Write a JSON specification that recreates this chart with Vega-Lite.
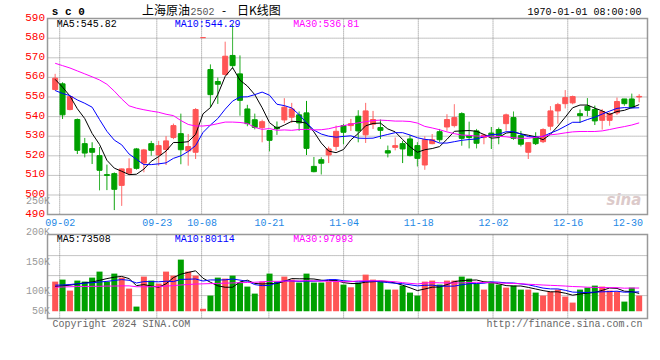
{
"$schema": "https://vega.github.io/schema/vega-lite/v6.json",
"background": "white",
"padding": {"left": 23.5, "top": 3.6, "right": 0, "bottom": 0},
"bounds": "flush",
"spacing": 20,
"config": {
  "view": {"stroke": "#999999", "strokeWidth": 1.5},
  "font": "Liberation Mono",
  "axis": {"grid": false, "domain": false, "ticks": false, "labelFont": "Liberation Mono", "labelOverlap": false, "labelFlush": false, "tickCount": 30},
  "rule": {"color": "#8a8a8a", "strokeDash": [1, 1], "strokeWidth": 1, "opacity": 1}
},
"datasets": {
"k": [
{"i":0,"o":553.8,"h":561.8,"l":553.3,"c":559.6,"v":125900,"m5":559,"m10":553.3,"m30":567.2,"vm5":104000,"vm10":110000,"vm30":101000},
{"i":1,"o":556.7,"h":557.5,"l":538.8,"c":540.9,"v":134800,"m5":555,"m10":551.8,"m30":566.0,"vm5":107000,"vm10":111000,"vm30":102000},
{"i":2,"o":543.6,"h":550.7,"l":543.2,"c":550.2,"v":85900,"m5":550.5,"m10":550.7,"m30":564.8,"vm5":110000,"vm10":113000,"vm30":103000},
{"i":3,"o":538.5,"h":539.0,"l":520.9,"c":522.8,"v":130400,"m5":544,"m10":548.5,"m30":563.3,"vm5":115000,"vm10":116000,"vm30":104000},
{"i":4,"o":526.2,"h":529.1,"l":519.2,"c":521.4,"v":125900,"m5":539.0,"m10":546.8,"m30":561.8,"vm5":120600,"vm10":119000,"vm30":104000},
{"i":5,"o":523.7,"h":526.9,"l":515.8,"c":521.8,"v":143700,"m5":531.4,"m10":544.8,"m30":560.3,"vm5":124100,"vm10":121000,"vm30":105000},
{"i":6,"o":520.1,"h":524.5,"l":502.4,"c":512.6,"v":170400,"m5":525.8,"m10":538.5,"m30":558.7,"vm5":131300,"vm10":124000,"vm30":105000},
{"i":7,"o":510.4,"h":515.5,"l":502.5,"c":510.0,"v":125900,"m5":517.7,"m10":532.5,"m30":556.5,"vm5":139300,"vm10":127000,"vm30":106000},
{"i":8,"o":510.9,"h":511.5,"l":492.3,"c":502.9,"v":161500,"m5":513.7,"m10":528.0,"m30":553.0,"vm5":145500,"vm10":131000,"vm30":106000},
{"i":9,"o":504.9,"h":513.5,"l":494.5,"c":513.3,"v":143700,"m5":512.1,"m10":525.6,"m30":549.0,"vm5":149000,"vm10":134800,"vm30":107000},
{"i":10,"o":511.1,"h":518.7,"l":510.3,"c":513.4,"v":94800,"m5":510.4,"m10":520.9,"m30":545.5,"vm5":139300,"vm10":131700,"vm30":107000},
{"i":11,"o":523.5,"h":524.0,"l":513.0,"c":513.6,"v":14700,"m5":510.6,"m10":518.2,"m30":544.3,"vm5":108100,"vm10":119700,"vm30":103000},
{"i":12,"o":516.3,"h":523.5,"l":511.6,"c":523.0,"v":148200,"m5":513.2,"m10":515.5,"m30":543.5,"vm5":112600,"vm10":125900,"vm30":103000},
{"i":13,"o":526.2,"h":527.6,"l":520.1,"c":522.8,"v":130400,"m5":517.2,"m10":515.5,"m30":542.8,"vm5":106400,"vm10":125900,"vm30":103000},
{"i":14,"o":520.4,"h":527.6,"l":515.0,"c":525.2,"v":117000,"m5":519.6,"m10":515.9,"m30":542.2,"vm5":101000,"vm10":125000,"vm30":104000},
{"i":15,"o":523.2,"h":530.0,"l":515.3,"c":527.6,"v":170400,"m5":522.4,"m10":516.4,"m30":541.2,"vm5":116100,"vm10":127700,"vm30":106000},
{"i":16,"o":529.3,"h":536.4,"l":528.5,"c":535.4,"v":152600,"m5":526.8,"m10":518.7,"m30":540.5,"vm5":143700,"vm10":125900,"vm30":108000},
{"i":17,"o":531.3,"h":541.5,"l":515.7,"c":523.1,"v":223800,"m5":526.8,"m10":520.0,"m30":538.0,"vm5":158800,"vm10":135700,"vm30":111000},
{"i":18,"o":522.5,"h":531.1,"l":515.0,"c":524.7,"v":170400,"m5":527.2,"m10":522.2,"m30":536.0,"vm5":166800,"vm10":136600,"vm30":113000},
{"i":19,"o":521.8,"h":544.3,"l":518.4,"c":543.6,"v":152600,"m5":530.9,"m10":525.2,"m30":535.2,"vm5":174000,"vm10":137500,"vm30":115000},
{"i":20,"o":580.3,"h":580.3,"l":580.3,"c":580.3,"v":5000,"m5":541.4,"m10":531.9,"m30":535.2,"vm5":140900,"vm10":128500,"vm30":116000},
{"i":21,"o":564.0,"h":566.6,"l":544.8,"c":551.2,"v":63600,"m5":544.6,"m10":535.7,"m30":535.6,"vm5":123100,"vm10":133400,"vm30":117000},
{"i":22,"o":557.9,"h":559.9,"l":546.5,"c":556.5,"v":143700,"m5":551.3,"m10":539.0,"m30":536.4,"vm5":107100,"vm10":133000,"vm30":118000},
{"i":23,"o":561.5,"h":578.2,"l":561.0,"c":570.8,"v":139300,"m5":560.5,"m10":543.8,"m30":537.2,"vm5":100800,"vm10":133800,"vm30":119000},
{"i":24,"o":571.2,"h":587.0,"l":564.5,"c":566.0,"v":152600,"m5":565.0,"m10":547.9,"m30":537.2,"vm5":100800,"vm10":137400,"vm30":120000},
{"i":25,"o":561.8,"h":571.2,"l":540.5,"c":548.3,"v":121500,"m5":558.6,"m10":550.0,"m30":537.0,"vm5":124100,"vm10":132500,"vm30":121000},
{"i":26,"o":543.9,"h":546.0,"l":535.1,"c":536.4,"v":103700,"m5":555.6,"m10":550.1,"m30":536.5,"vm5":132200,"vm10":127600,"vm30":122000},
{"i":27,"o":538.4,"h":541.5,"l":533.5,"c":534.5,"v":72500,"m5":551.2,"m10":551.2,"m30":534.5,"vm5":117900,"vm10":112500,"vm30":123000},
{"i":28,"o":534.4,"h":538.4,"l":526.9,"c":537.4,"v":125900,"m5":544.5,"m10":552.5,"m30":533.5,"vm5":115200,"vm10":108000,"vm30":125000},
{"i":29,"o":532.9,"h":533.0,"l":522.3,"c":527.9,"v":161500,"m5":536.9,"m10":550.9,"m30":533.9,"vm5":117000,"vm10":108900,"vm30":127100},
{"i":30,"o":534.6,"h":537.5,"l":530.7,"c":533.8,"v":125900,"m5":534.0,"m10":546.3,"m30":533.0,"vm5":117900,"vm10":121000,"vm30":127100},
{"i":31,"o":538.3,"h":549.4,"l":536.8,"c":544.8,"v":148200,"m5":535.7,"m10":545.6,"m30":533.2,"vm5":126800,"vm10":129500,"vm30":127500},
{"i":32,"o":539.7,"h":547.0,"l":536.8,"c":543.9,"v":134800,"m5":537.6,"m10":544.4,"m30":533.0,"vm5":139300,"vm10":128600,"vm30":129200},
{"i":33,"o":540.9,"h":542.6,"l":532.8,"c":536.8,"v":121500,"m5":537.4,"m10":541.0,"m30":533.4,"vm5":138400,"vm10":126800,"vm30":128900},
{"i":34,"o":541.9,"h":548.0,"l":520.4,"c":523.8,"v":161500,"m5":536.6,"m10":536.8,"m30":533.5,"vm5":138400,"vm10":127700,"vm30":130000},
{"i":35,"o":514.6,"h":519.4,"l":511.6,"c":511.9,"v":121500,"m5":532.2,"m10":533.1,"m30":533.2,"vm5":137500,"vm10":127700,"vm30":129300},
{"i":36,"o":518.0,"h":519.2,"l":510.5,"c":516.2,"v":121500,"m5":526.5,"m10":531.1,"m30":533.3,"vm5":132200,"vm10":129500,"vm30":127700},
{"i":37,"o":520.4,"h":524.7,"l":516.3,"c":523.5,"v":125900,"m5":522.4,"m10":530.0,"m30":533.8,"vm5":130400,"vm10":134800,"vm30":127700},
{"i":38,"o":524.8,"h":535.4,"l":522.6,"c":532.5,"v":125900,"m5":521.6,"m10":529.5,"m30":534.7,"vm5":131300,"vm10":134800,"vm30":126500},
{"i":39,"o":535.4,"h":536.1,"l":525.9,"c":532.0,"v":112600,"m5":523.2,"m10":529.9,"m30":535.4,"vm5":121500,"vm10":129900,"vm30":125500},
{"i":40,"o":535.4,"h":538.8,"l":532.7,"c":536.4,"v":100600,"m5":528.1,"m10":530.2,"m30":536.1,"vm5":117300,"vm10":127400,"vm30":125600},
{"i":41,"o":540.2,"h":543.2,"l":526.9,"c":532.7,"v":121500,"m5":531.4,"m10":529.0,"m30":536.8,"vm5":117300,"vm10":124700,"vm30":129200},
{"i":42,"o":530.7,"h":547.0,"l":526.6,"c":542.9,"v":157000,"m5":535.3,"m10":528.9,"m30":537.4,"vm5":123500,"vm10":127000,"vm30":129500},
{"i":43,"o":536.1,"h":542.9,"l":533.7,"c":538.5,"v":134800,"m5":536.5,"m10":529.0,"m30":538.0,"vm5":125300,"vm10":128300,"vm30":129600},
{"i":44,"o":534.4,"h":538.5,"l":528.6,"c":533.0,"v":125900,"m5":536.7,"m10":530.0,"m30":538.2,"vm5":128000,"vm10":124700,"vm30":129900},
{"i":45,"o":522.6,"h":525.2,"l":519.2,"c":521.4,"v":90300,"m5":533.7,"m10":530.9,"m30":538.0,"vm5":125900,"vm10":121600,"vm30":127300},
{"i":46,"o":524.3,"h":529.3,"l":522.8,"c":525.2,"v":90300,"m5":532.2,"m10":531.8,"m30":537.7,"vm5":119700,"vm10":118500,"vm30":125200},
{"i":47,"o":526.2,"h":527.6,"l":516.3,"c":523.5,"v":108100,"m5":528.3,"m10":531.8,"m30":537.7,"vm5":109900,"vm10":116700,"vm30":121300},
{"i":48,"o":528.6,"h":530.6,"l":519.7,"c":520.1,"v":77000,"m5":524.6,"m10":530.6,"m30":537.5,"vm5":98300,"vm10":111800,"vm30":118200},
{"i":49,"o":525.2,"h":526.9,"l":514.6,"c":518.7,"v":63600,"m5":521.8,"m10":529.2,"m30":536.7,"vm5":85900,"vm10":106900,"vm30":115300},
{"i":50,"o":515.3,"h":529.9,"l":512.9,"c":528.2,"v":125900,"m5":523.1,"m10":528.4,"m30":535.0,"vm5":93000,"vm10":109400,"vm30":119300},
{"i":51,"o":526.2,"h":531.1,"l":525.9,"c":528.2,"v":130400,"m5":523.7,"m10":528.0,"m30":534.2,"vm5":101000,"vm10":110300,"vm30":121500},
{"i":52,"o":532.3,"h":533.7,"l":526.9,"c":528.2,"v":112600,"m5":524.7,"m10":526.5,"m30":533.3,"vm5":101900,"vm10":105900,"vm30":120500},
{"i":53,"o":534.7,"h":541.2,"l":532.8,"c":538.5,"v":130400,"m5":528.4,"m10":526.5,"m30":532.2,"vm5":112600,"vm10":105500,"vm30":120200},
{"i":54,"o":535.4,"h":546.3,"l":534.5,"c":539.5,"v":130400,"m5":532.5,"m10":527.2,"m30":531.3,"vm5":125900,"vm10":105900,"vm30":119400},
{"i":55,"o":541.5,"h":542.2,"l":525.2,"c":528.9,"v":148200,"m5":532.7,"m10":527.9,"m30":530.6,"vm5":130400,"vm10":111700,"vm30":120300},
{"i":56,"o":530.3,"h":537.4,"l":523.8,"c":529.3,"v":139300,"m5":532.9,"m10":528.3,"m30":530.4,"vm5":132200,"vm10":116600,"vm30":121500},
{"i":57,"o":532.7,"h":533.7,"l":523.8,"c":526.4,"v":117000,"m5":532.5,"m10":528.6,"m30":530.1,"vm5":133100,"vm10":117500,"vm30":123000},
{"i":58,"o":529.3,"h":531.0,"l":525.9,"c":530.6,"v":90300,"m5":530.9,"m10":529.7,"m30":529.9,"vm5":125000,"vm10":118800,"vm30":121800},
{"i":59,"o":531.6,"h":534.7,"l":523.5,"c":529.9,"v":121500,"m5":529.0,"m10":530.8,"m30":530.0,"vm5":123300,"vm10":124600,"vm30":120500},
{"i":60,"o":533.4,"h":534.4,"l":525.9,"c":530.3,"v":112600,"m5":529.3,"m10":531.0,"m30":529.9,"vm5":116100,"vm10":123300,"vm30":120000},
{"i":61,"o":536.4,"h":541.5,"l":532.8,"c":540.9,"v":99200,"m5":531.6,"m10":532.3,"m30":529.7,"vm5":108100,"vm10":120200,"vm30":118400},
{"i":62,"o":539.5,"h":542.6,"l":528.2,"c":528.9,"v":108100,"m5":532.1,"m10":532.3,"m30":529.2,"vm5":106300,"vm10":119700,"vm30":117500},
{"i":63,"o":530.3,"h":532.7,"l":524.8,"c":525.9,"v":90300,"m5":531.2,"m10":531.1,"m30":528.9,"vm5":106300,"vm10":115700,"vm30":116500},
{"i":64,"o":521.8,"h":526.9,"l":518.4,"c":526.7,"v":90300,"m5":530.5,"m10":529.8,"m30":529.0,"vm5":100100,"vm10":111700,"vm30":114100},
{"i":65,"o":529.6,"h":532.0,"l":525.5,"c":526.2,"v":77000,"m5":529.7,"m10":529.5,"m30":529.4,"vm5":93000,"vm10":104600,"vm30":112600},
{"i":66,"o":527.2,"h":534.0,"l":526.5,"c":533.4,"v":63600,"m5":528.2,"m10":529.9,"m30":530.0,"vm5":85900,"vm10":97000,"vm30":110700},
{"i":67,"o":535.1,"h":545.3,"l":533.0,"c":542.9,"v":81400,"m5":531.0,"m10":531.6,"m30":530.7,"vm5":80500,"vm10":93400,"vm30":109200},
{"i":68,"o":542.9,"h":547.0,"l":536.4,"c":546.1,"v":90300,"m5":535.1,"m10":533.1,"m30":531.1,"vm5":80500,"vm10":93400,"vm30":108000},
{"i":69,"o":546.6,"h":553.5,"l":544.2,"c":549.7,"v":59200,"m5":539.7,"m10":535.1,"m30":531.7,"vm5":74300,"vm10":87200,"vm30":106200},
{"i":70,"o":547.0,"h":550.7,"l":546.3,"c":550.2,"v":32500,"m5":544.5,"m10":537.1,"m30":532.2,"vm5":65400,"vm10":79200,"vm30":104000},
{"i":71,"o":541.5,"h":543.6,"l":536.8,"c":540.5,"v":90300,"m5":545.9,"m10":537.1,"m30":532.4,"vm5":70700,"vm10":78300,"vm30":102900},
{"i":72,"o":545.3,"h":549.4,"l":540.2,"c":543.2,"v":99200,"m5":545.9,"m10":538.5,"m30":532.4,"vm5":74300,"vm10":77400,"vm30":101000},
{"i":73,"o":543.6,"h":545.6,"l":535.7,"c":537.8,"v":108100,"m5":544.3,"m10":539.7,"m30":532.4,"vm5":77900,"vm10":79200,"vm30":100100},
{"i":74,"o":538.1,"h":543.9,"l":533.4,"c":542.6,"v":103700,"m5":542.9,"m10":541.3,"m30":532.7,"vm5":86800,"vm10":80500,"vm30":99400},
{"i":75,"o":538.1,"h":542.2,"l":535.4,"c":541.5,"v":85900,"m5":541.1,"m10":542.8,"m30":533.4,"vm5":97400,"vm10":81400,"vm30":99200},
{"i":76,"o":541.9,"h":549.7,"l":540.9,"c":547.7,"v":81400,"m5":542.6,"m10":544.2,"m30":534.2,"vm5":95700,"vm10":83200,"vm30":98900},
{"i":77,"o":549.0,"h":549.0,"l":545.6,"c":546.6,"v":36900,"m5":543.2,"m10":544.6,"m30":534.9,"vm5":83200,"vm10":78800,"vm30":96600},
{"i":78,"o":549.0,"h":551.7,"l":544.2,"c":544.6,"v":99200,"m5":544.6,"m10":544.4,"m30":535.7,"vm5":81400,"vm10":79600,"vm30":97300},
{"i":79,"o":550.0,"h":551.4,"l":547.3,"c":550.3,"v":63600,"m5":546.1,"m10":544.5,"m30":536.8,"vm5":73400,"vm10":80100,"vm30":97300}
]
},
"vconcat": [
{
  "width": 600,
  "height": 196,
  "data": {"name": "k"},
  "layer": [
    {"data": {"values": [{}]}, "mark": "rule", "encoding": {"y": {"datum": 500, "type": "quantitative", "title": null}}},
    {"data": {"values": [{}]}, "mark": "rule", "encoding": {"y": {"datum": 510, "type": "quantitative", "title": null}}},
    {"data": {"values": [{}]}, "mark": "rule", "encoding": {"y": {"datum": 520, "type": "quantitative", "title": null}}},
    {"data": {"values": [{}]}, "mark": "rule", "encoding": {"y": {"datum": 530, "type": "quantitative", "title": null}}},
    {"data": {"values": [{}]}, "mark": "rule", "encoding": {"y": {"datum": 540, "type": "quantitative", "title": null}}},
    {"data": {"values": [{}]}, "mark": "rule", "encoding": {"y": {"datum": 550, "type": "quantitative", "title": null}}},
    {"data": {"values": [{}]}, "mark": "rule", "encoding": {"y": {"datum": 560, "type": "quantitative", "title": null}}},
    {"data": {"values": [{}]}, "mark": "rule", "encoding": {"y": {"datum": 570, "type": "quantitative", "title": null}}},
    {"data": {"values": [{}]}, "mark": "rule", "encoding": {"y": {"datum": 580, "type": "quantitative", "title": null}}},
    {"data": {"values": [{}]}, "mark": "rule", "encoding": {"x": {"datum": 0.612, "type": "quantitative", "title": null}}},
    {"data": {"values": [{}]}, "mark": "rule", "encoding": {"x": {"datum": 13.75, "type": "quantitative", "title": null}}},
    {"data": {"values": [{}]}, "mark": "rule", "encoding": {"x": {"datum": 19.81, "type": "quantitative", "title": null}}},
    {"data": {"values": [{}]}, "mark": "rule", "encoding": {"x": {"datum": 28.91, "type": "quantitative", "title": null}}},
    {"data": {"values": [{}]}, "mark": "rule", "encoding": {"x": {"datum": 39.02, "type": "quantitative", "title": null}}},
    {"data": {"values": [{}]}, "mark": "rule", "encoding": {"x": {"datum": 49.12, "type": "quantitative", "title": null}}},
    {"data": {"values": [{}]}, "mark": "rule", "encoding": {"x": {"datum": 59.23, "type": "quantitative", "title": null}}},
    {"data": {"values": [{}]}, "mark": "rule", "encoding": {"x": {"datum": 69.34, "type": "quantitative", "title": null}}},
    {"mark": {"type": "rule", "strokeWidth": 1, "strokeDash": [1, 0]},
     "encoding": {
       "x": {"field": "i", "type": "quantitative", "title": null,
             "scale": {"domain": [-0.36, 79.45], "nice": false, "zero": false},
             "axis": {"values": [0.612, 13.75, 19.81, 28.91, 39.02, 49.12, 59.23, 69.34, 79.44], "tickCount": 30,
                      "grid": false, "labelFlush": false, "labelOverlap": false, "labelBound": false,
                      "labelColor": "#1e88e5", "labelFontSize": 10, "labelPadding": 3,
                      "labelAlign": {"condition": {"test": "datum.value > 75", "value": "right"}, "value": "center"},
                      "labelExpr": "datum.value < 5 ? '09-02' : datum.value < 16 ? '09-23' : datum.value < 24 ? '10-08' : datum.value < 34 ? '10-21' : datum.value < 44 ? '11-04' : datum.value < 54 ? '11-18' : datum.value < 64 ? '12-02' : datum.value < 74 ? '12-16' : '12-30'"}},
       "y": {"field": "l", "type": "quantitative", "title": null,
             "scale": {"domain": [490, 590], "nice": false, "zero": false},
             "axis": {"values": [490, 500, 510, 520, 530, 540, 550, 560, 570, 580, 590], "tickCount": 30,
                      "grid": false, "labelOverlap": false, "labelBound": false, "labelFlush": false,
                      "labelColor": "#ff0000", "labelFontSize": 11, "labelPadding": 3, "labelOffset": -1.5}},
       "y2": {"field": "h"},
       "color": {"condition": {"test": "datum.c >= datum.o", "value": "#ff5555"}, "value": "#00a000"}
     }},
    {"mark": {"type": "bar", "size": 5, "strokeWidth": 1},
     "encoding": {
       "x": {"field": "i", "type": "quantitative", "title": null},
       "y": {"field": "o", "type": "quantitative", "title": null},
       "y2": {"field": "c"},
       "color": {"condition": {"test": "datum.c >= datum.o", "value": "#ff5555"}, "value": "#00a000"},
       "stroke": {"condition": {"test": "datum.c >= datum.o", "value": "#ff5555"}, "value": "#00a000"}
     }},
    {"mark": {"type": "line", "color": "#000000", "strokeWidth": 1},
     "encoding": {"x": {"field": "i", "type": "quantitative", "title": null}, "y": {"field": "m5", "type": "quantitative", "title": null}}},
    {"mark": {"type": "line", "color": "#0000ff", "strokeWidth": 1},
     "encoding": {"x": {"field": "i", "type": "quantitative", "title": null}, "y": {"field": "m10", "type": "quantitative", "title": null}}},
    {"mark": {"type": "line", "color": "#ff00ff", "strokeWidth": 1},
     "encoding": {"x": {"field": "i", "type": "quantitative", "title": null}, "y": {"field": "m30", "type": "quantitative", "title": null}}},
    {"data": {"values": [{"t": "MA5:545.82"}]},
     "mark": {"type": "text", "align": "left", "baseline": "middle", "fontSize": 10, "color": "#000000"},
     "encoding": {"x": {"datum": 0.21, "type": "quantitative", "title": null}, "y": {"datum": 587.1, "type": "quantitative", "title": null}, "text": {"field": "t"}}},
    {"data": {"values": [{"t": "MA10:544.29"}]},
     "mark": {"type": "text", "align": "left", "baseline": "middle", "fontSize": 10, "color": "#0000ff"},
     "encoding": {"x": {"datum": 16.17, "type": "quantitative", "title": null}, "y": {"datum": 587.1, "type": "quantitative", "title": null}, "text": {"field": "t"}}},
    {"data": {"values": [{"t": "MA30:536.81"}]},
     "mark": {"type": "text", "align": "left", "baseline": "middle", "fontSize": 10, "color": "#ff00ff"},
     "encoding": {"x": {"datum": 32.22, "type": "quantitative", "title": null}, "y": {"datum": 587.1, "type": "quantitative", "title": null}, "text": {"field": "t"}}},
    {"data": {"values": [{"t": "s c 0"}]},
     "mark": {"type": "text", "align": "left", "baseline": "middle", "fontSize": 11, "fontWeight": "bold", "color": "#000000"},
     "encoding": {"x": {"datum": -0.45, "type": "quantitative", "title": null}, "y": {"datum": 593.4, "type": "quantitative", "title": null}, "text": {"field": "t"}}},
    {"data": {"values": [{"t": "上海原油"}]},
     "mark": {"type": "text", "align": "left", "baseline": "middle", "fontSize": 12, "font": "Noto Sans CJK SC", "color": "#000000"},
     "encoding": {"x": {"datum": 11.74, "type": "quantitative", "title": null}, "y": {"datum": 594.1, "type": "quantitative", "title": null}, "text": {"field": "t"}}},
    {"data": {"values": [{"t": "2502"}]},
     "mark": {"type": "text", "align": "left", "baseline": "middle", "fontSize": 10, "color": "#555555"},
     "encoding": {"x": {"datum": 18.3, "type": "quantitative", "title": null}, "y": {"datum": 593.6, "type": "quantitative", "title": null}, "text": {"field": "t"}}},
    {"data": {"values": [{"t": "-"}]},
     "mark": {"type": "text", "align": "left", "baseline": "middle", "fontSize": 11, "color": "#000000"},
     "encoding": {"x": {"datum": 22.4, "type": "quantitative", "title": null}, "y": {"datum": 593.8, "type": "quantitative", "title": null}, "text": {"field": "t"}}},
    {"data": {"values": [{"t": "日K线图"}]},
     "mark": {"type": "text", "align": "left", "baseline": "middle", "fontSize": 12, "font": "Noto Sans CJK SC", "color": "#000000"},
     "encoding": {"x": {"datum": 24.6, "type": "quantitative", "title": null}, "y": {"datum": 594.1, "type": "quantitative", "title": null}, "text": {"field": "t"}}},
    {"data": {"values": [{"t": "1970-01-01 08:00:00"}]},
     "mark": {"type": "text", "align": "right", "baseline": "middle", "fontSize": 10, "color": "#000000"},
     "encoding": {"x": {"datum": 79.3, "type": "quantitative", "title": null}, "y": {"datum": 593.3, "type": "quantitative", "title": null}, "text": {"field": "t"}}},
    {"data": {"values": [{"t": "sina"}]},
     "mark": {"type": "text", "align": "right", "baseline": "middle", "fontSize": 15, "fontWeight": "bold", "fontStyle": "italic", "font": "DejaVu Sans", "color": "#dccaca"},
     "encoding": {"x": {"datum": 79.3, "type": "quantitative", "title": null}, "y": {"datum": 497.5, "type": "quantitative", "title": null}, "text": {"field": "t"}}}
  ]
},
{
  "width": 600,
  "height": 84,
  "data": {"name": "k"},
  "layer": [
    {"data": {"values": [{}]}, "mark": "rule", "encoding": {"y": {"datum": 63600, "type": "quantitative", "title": null}}},
    {"data": {"values": [{}]}, "mark": "rule", "encoding": {"y": {"datum": 152600, "type": "quantitative", "title": null}}},
    {"data": {"values": [{}]}, "mark": "rule", "encoding": {"y": {"datum": 241600, "type": "quantitative", "title": null}}},
    {"data": {"values": [{}]}, "mark": "rule", "encoding": {"x": {"datum": 0.612, "type": "quantitative", "title": null}}},
    {"data": {"values": [{}]}, "mark": "rule", "encoding": {"x": {"datum": 13.75, "type": "quantitative", "title": null}}},
    {"data": {"values": [{}]}, "mark": "rule", "encoding": {"x": {"datum": 19.81, "type": "quantitative", "title": null}}},
    {"data": {"values": [{}]}, "mark": "rule", "encoding": {"x": {"datum": 28.91, "type": "quantitative", "title": null}}},
    {"data": {"values": [{}]}, "mark": "rule", "encoding": {"x": {"datum": 39.02, "type": "quantitative", "title": null}}},
    {"data": {"values": [{}]}, "mark": "rule", "encoding": {"x": {"datum": 49.12, "type": "quantitative", "title": null}}},
    {"data": {"values": [{}]}, "mark": "rule", "encoding": {"x": {"datum": 59.23, "type": "quantitative", "title": null}}},
    {"data": {"values": [{}]}, "mark": "rule", "encoding": {"x": {"datum": 69.34, "type": "quantitative", "title": null}}},
    {"mark": {"type": "bar", "size": 6},
     "encoding": {
       "x": {"field": "i", "type": "quantitative", "title": null,
             "scale": {"domain": [-0.36, 79.45], "nice": false, "zero": false},
             "axis": {"values": [0.612, 13.75, 19.81, 28.91, 39.02, 49.12, 59.23, 69.34, 79.44], "tickCount": 30, "labels": false, "grid": false}},
       "y": {"field": "v", "type": "quantitative", "title": null,
             "scale": {"domain": [-38700, 335100], "nice": false, "zero": false},
             "axis": {"values": [63600, 152600, 241600], "tickCount": 30, "labels": false, "grid": false}},
       "y2": {"datum": -6000},
       "color": {"condition": {"test": "datum.c >= datum.o", "value": "#ff5555"}, "value": "#00a000"}
     }},
    {"mark": {"type": "line", "color": "#000000", "strokeWidth": 1},
     "encoding": {"x": {"field": "i", "type": "quantitative", "title": null}, "y": {"field": "vm5", "type": "quantitative", "title": null}}},
    {"mark": {"type": "line", "color": "#0000ff", "strokeWidth": 1},
     "encoding": {"x": {"field": "i", "type": "quantitative", "title": null}, "y": {"field": "vm10", "type": "quantitative", "title": null}}},
    {"mark": {"type": "line", "color": "#ff00ff", "strokeWidth": 1},
     "encoding": {"x": {"field": "i", "type": "quantitative", "title": null}, "y": {"field": "vm30", "type": "quantitative", "title": null}}},
    {"data": {"values": [{"t": "MA5:73508"}]},
     "mark": {"type": "text", "align": "left", "baseline": "middle", "fontSize": 10, "color": "#000000"},
     "encoding": {"x": {"datum": 0.21, "type": "quantitative", "title": null}, "y": {"datum": 316000, "type": "quantitative", "title": null}, "text": {"field": "t"}}},
    {"data": {"values": [{"t": "MA10:80114"}]},
     "mark": {"type": "text", "align": "left", "baseline": "middle", "fontSize": 10, "color": "#0000ff"},
     "encoding": {"x": {"datum": 16.17, "type": "quantitative", "title": null}, "y": {"datum": 316000, "type": "quantitative", "title": null}, "text": {"field": "t"}}},
    {"data": {"values": [{"t": "MA30:97993"}]},
     "mark": {"type": "text", "align": "left", "baseline": "middle", "fontSize": 10, "color": "#ff00ff"},
     "encoding": {"x": {"datum": 32.22, "type": "quantitative", "title": null}, "y": {"datum": 316000, "type": "quantitative", "title": null}, "text": {"field": "t"}}},
    {"data": {"values": [{"t": "50K"}]},
     "mark": {"type": "text", "align": "right", "baseline": "middle", "fontSize": 10, "color": "#999999"},
     "encoding": {"x": {"datum": -0.69, "type": "quantitative", "title": null}, "y": {"datum": -6200, "type": "quantitative", "title": null}, "text": {"field": "t"}}},
    {"data": {"values": [{"t": "100K"}]},
     "mark": {"type": "text", "align": "right", "baseline": "middle", "fontSize": 10, "color": "#999999"},
     "encoding": {"x": {"datum": -0.69, "type": "quantitative", "title": null}, "y": {"datum": 84600, "type": "quantitative", "title": null}, "text": {"field": "t"}}},
    {"data": {"values": [{"t": "150K"}]},
     "mark": {"type": "text", "align": "right", "baseline": "middle", "fontSize": 10, "color": "#999999"},
     "encoding": {"x": {"datum": -0.69, "type": "quantitative", "title": null}, "y": {"datum": 214900, "type": "quantitative", "title": null}, "text": {"field": "t"}}},
    {"data": {"values": [{"t": "200K"}]},
     "mark": {"type": "text", "align": "right", "baseline": "middle", "fontSize": 10, "color": "#999999"},
     "encoding": {"x": {"datum": -0.69, "type": "quantitative", "title": null}, "y": {"datum": 348400, "type": "quantitative", "title": null}, "text": {"field": "t"}}},
    {"data": {"values": [{"t": "250K"}]},
     "mark": {"type": "text", "align": "right", "baseline": "middle", "fontSize": 10, "color": "#999999"},
     "encoding": {"x": {"datum": -0.69, "type": "quantitative", "title": null}, "y": {"datum": 486400, "type": "quantitative", "title": null}, "text": {"field": "t"}}},
    {"data": {"values": [{"t": "Copyright 2024 SINA.COM"}]},
     "mark": {"type": "text", "align": "left", "baseline": "middle", "fontSize": 10, "color": "#666666"},
     "encoding": {"x": {"datum": -0.36, "type": "quantitative", "title": null}, "y": {"datum": -62300, "type": "quantitative", "title": null}, "text": {"field": "t"}}},
    {"data": {"values": [{"t": "http://finance.sina.com.cn"}]},
     "mark": {"type": "text", "align": "right", "baseline": "middle", "fontSize": 10, "color": "#666666"},
     "encoding": {"x": {"datum": 79.44, "type": "quantitative", "title": null}, "y": {"datum": -62300, "type": "quantitative", "title": null}, "text": {"field": "t"}}}
  ]
}
]
}
